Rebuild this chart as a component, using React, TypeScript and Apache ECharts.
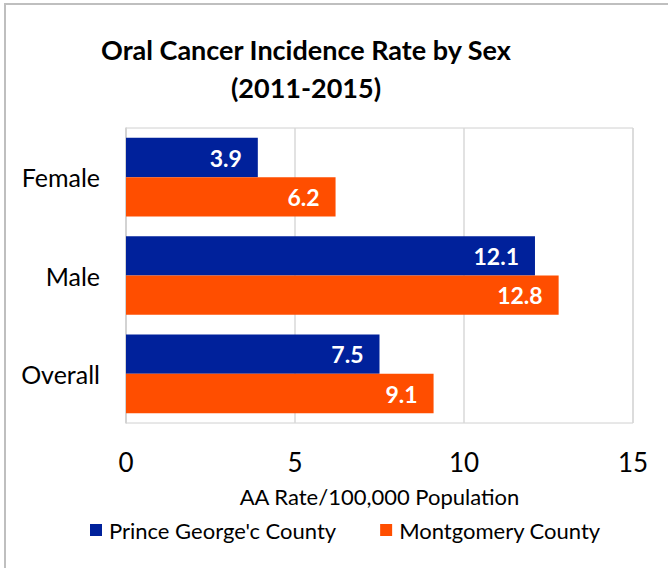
import React, { useEffect, useRef } from "react";
import * as echarts from "echarts";

const categories = ["Female", "Male", "Overall"];
const seriesNames = ["Prince George'c County", "Montgomery County"];
const princeGeorges = [3.9, 12.1, 7.5];
const montgomery = [6.2, 12.8, 9.1];
const xTicks = { min: 0, max: 15, interval: 5 };

const FONT = "Lato, 'Open Sans', sans-serif";

export default function App() {
  const ref = useRef<HTMLDivElement>(null);
  useEffect(() => {
    document.body.style.margin = "0";
    const chart = echarts.init(ref.current!, undefined, { renderer: "svg" });
    const label = {
      show: true,
      position: "insideRight",
      distance: 16,
      color: "#ffffff",
      fontSize: 23,
      fontWeight: "bold",
      fontFamily: FONT,
    };
    chart.setOption({
      animation: false,
      backgroundColor: "#ffffff",
      textStyle: { fontFamily: FONT },
      title: {
        text: "Oral Cancer Incidence Rate by Sex\n(2011-2015)",
        left: 301,
        textAlign: "center",
        top: 25,
        textStyle: {
          fontFamily: FONT,
          fontSize: 27,
          fontWeight: "bold",
          color: "#000000",
          lineHeight: 38,
        },
      },
      graphic: [
        {
          type: "rect",
          shape: { x: 5, y: 4, width: 700, height: 620 },
          style: { fill: "none", stroke: "#bfbfbf", lineWidth: 2 },
          silent: true,
        },
      ],
      grid: {
        left: 126,
        right: 35,
        top: 128,
        bottom: 145,
        show: true,
        borderColor: "#d0d0d0",
        borderWidth: 1,
      },
      legend: {
        left: 85,
        top: 514,
        itemWidth: 12,
        itemHeight: 12,
        itemGap: 44,
        icon: "rect",
        textStyle: {
          fontFamily: FONT,
          fontSize: 22,
          color: "#000000",
          padding: [0, 0, 0, 2],
        },
        data: seriesNames,
      },
      xAxis: {
        type: "value",
        min: xTicks.min,
        max: xTicks.max,
        interval: xTicks.interval,
        name: "AA Rate/100,000 Population",
        nameLocation: "middle",
        nameGap: 62,
        nameTextStyle: { fontFamily: FONT, fontSize: 22, color: "#000000" },
        axisLine: { show: false },
        axisTick: { show: false },
        axisLabel: {
          fontFamily: FONT,
          fontSize: 26,
          color: "#000000",
          margin: 26,
        },
        splitLine: { lineStyle: { color: "#d9d9d9", width: 1.5 } },
      },
      yAxis: {
        type: "category",
        data: categories,
        inverse: true,
        axisLine: { show: true, lineStyle: { color: "#d0d0d0", width: 1.5 } },
        axisTick: { show: false },
        axisLabel: {
          fontFamily: FONT,
          fontSize: 25,
          color: "#000000",
          margin: 26,
        },
      },
      series: [
        {
          name: seriesNames[0],
          type: "bar",
          data: princeGeorges,
          barGap: "0%",
          barCategoryGap: "20%",
          itemStyle: { color: "#00219b" },
          label,
        },
        {
          name: seriesNames[1],
          type: "bar",
          data: montgomery,
          barGap: "0%",
          barCategoryGap: "20%",
          itemStyle: { color: "#ff4e00" },
          label,
        },
      ],
    });
    return () => chart.dispose();
  }, []);
  return (
    <div
      ref={ref}
      style={{ position: "fixed", left: 0, top: 0, width: 668, height: 568 }}
    />
  );
}
